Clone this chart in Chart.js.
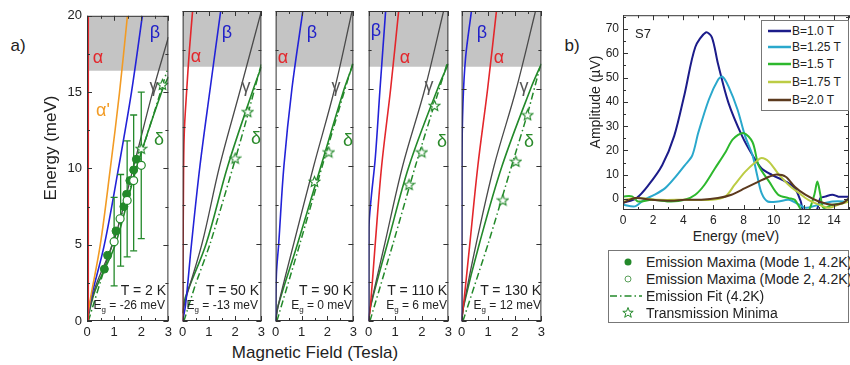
<!DOCTYPE html>
<html>
<head>
<meta charset="utf-8">
<script src="https://cdn.jsdelivr.net/npm/chart.js@4.4.1/dist/chart.umd.min.js"></script>
<style>
    body { margin: 0; width: 850px; height: 365px; background: #fff; position: relative; overflow: hidden;
           font-family: "Liberation Sans", Arial, sans-serif; color: #222; }
    canvas { position: absolute; }
    .t { position: absolute; white-space: nowrap; line-height: 1; transform: translate(-50%, -50%); }
    .r { position: absolute; white-space: nowrap; line-height: 1; transform: translate(-100%, -50%); }
    .l { position: absolute; white-space: nowrap; line-height: 1; transform: translate(0, -50%); }
    .gr { font-size: 18px; }
    .temp { font-size: 14px; }
    .eg { font-size: 12px; }
    .eg sub { font-size: 8px; vertical-align: -3px; }
    .box { position: absolute; border: 1px solid #777; background: #fff; }
</style>
</head>
<body>

<canvas id="p1" width="119" height="338" style="left:57px;top:3px"></canvas>
<canvas id="p2" width="94" height="338" style="left:175px;top:3px"></canvas>
<canvas id="p3" width="93" height="338" style="left:268px;top:3px"></canvas>
<canvas id="p4" width="95" height="338" style="left:361px;top:3px"></canvas>
<canvas id="p5" width="95" height="338" style="left:454px;top:3px"></canvas>
<canvas id="pb" width="257" height="224" style="left:593px;top:4px"></canvas>

<!-- panel letters and axis titles -->
<div class="t" style="left:18px;top:45px;font-size:17px">a)</div>
<div class="t" style="left:572px;top:45px;font-size:17px">b)</div>
<div class="t" style="left:50px;top:148px;font-size:17px;transform:translate(-50%,-50%) rotate(-90deg)">Energy (meV)</div>
<div class="t" style="left:315px;top:352px;font-size:17px">Magnetic Field (Tesla)</div>
<div class="t" style="left:595px;top:102px;font-size:14px;transform:translate(-50%,-50%) rotate(-90deg)">Amplitude (µV)</div>
<div class="t" style="left:736px;top:236px;font-size:14px">Energy (meV)</div>
<div class="l" style="left:635px;top:33px;font-size:13px">S7</div>

<!-- level labels -->
<div class="t gr" style="left:98px;top:57px;color:#e3262b">α</div>
<div class="t gr" style="left:103px;top:110px;color:#f29b24">α'</div>
<div class="t gr" style="left:155px;top:32px;color:#2222c8">β</div>
<div class="t gr" style="left:154px;top:86px;color:#555">γ</div>
<div class="t gr" style="left:159px;top:139px;color:#2a8a2a">δ</div>

<div class="t gr" style="left:196px;top:56px;color:#e3262b">α</div>
<div class="t gr" style="left:227px;top:32px;color:#2222c8">β</div>
<div class="t gr" style="left:246px;top:86px;color:#555">γ</div>
<div class="t gr" style="left:256px;top:138px;color:#2a8a2a">δ</div>

<div class="t gr" style="left:283px;top:57px;color:#e3262b">α</div>
<div class="t gr" style="left:312px;top:32px;color:#2222c8">β</div>
<div class="t gr" style="left:336px;top:86px;color:#555">γ</div>
<div class="t gr" style="left:348px;top:140px;color:#2a8a2a">δ</div>

<div class="t gr" style="left:376px;top:30px;color:#2222c8">β</div>
<div class="t gr" style="left:405px;top:57px;color:#e3262b">α</div>
<div class="t gr" style="left:429px;top:85px;color:#555">γ</div>
<div class="t gr" style="left:442px;top:141px;color:#2a8a2a">δ</div>

<div class="t gr" style="left:482px;top:32px;color:#2222c8">β</div>
<div class="t gr" style="left:499px;top:57px;color:#e3262b">α</div>
<div class="t gr" style="left:524px;top:86px;color:#555">γ</div>
<div class="t gr" style="left:529px;top:141px;color:#2a8a2a">δ</div>

<!-- temperatures and gaps -->
<div class="r temp" style="left:166px;top:290px">T = 2 K</div>
<div class="r eg" style="left:165px;top:306px">E<sub>g</sub> = -26 meV</div>
<div class="r temp" style="left:259px;top:290px">T = 50 K</div>
<div class="r eg" style="left:258px;top:306px">E<sub>g</sub> = -13 meV</div>
<div class="r temp" style="left:352px;top:290px">T = 90 K</div>
<div class="r eg" style="left:352px;top:306px">E<sub>g</sub> = 0 meV</div>
<div class="r temp" style="left:447px;top:290px">T = 110 K</div>
<div class="r eg" style="left:447px;top:306px">E<sub>g</sub> = 6 meV</div>
<div class="r temp" style="left:541px;top:290px">T = 130 K</div>
<div class="r eg" style="left:541px;top:306px">E<sub>g</sub> = 12 meV</div>

<!-- legend inside panel b -->
<div class="box" style="left:761px;top:20px;width:86px;height:89px">
    <svg width="86" height="89" style="position:absolute;left:0;top:0">
        <line x1="6" x2="29" y1="10" y2="10" stroke="#1c1c8a" stroke-width="2.5"/>
        <line x1="6" x2="29" y1="26" y2="26" stroke="#2aa8cc" stroke-width="2.5"/>
        <line x1="6" x2="29" y1="43" y2="43" stroke="#2db82d" stroke-width="2.5"/>
        <line x1="6" x2="29" y1="61" y2="61" stroke="#bccc44" stroke-width="2.5"/>
        <line x1="6" x2="29" y1="79" y2="79" stroke="#5c3a1e" stroke-width="2.5"/>
    </svg>
</div>
<div class="l" style="left:792px;top:31px;font-size:12px">B=1.0 T</div>
<div class="l" style="left:792px;top:47px;font-size:12px">B=1.25 T</div>
<div class="l" style="left:792px;top:64px;font-size:12px">B=1.5 T</div>
<div class="l" style="left:792px;top:82px;font-size:12px">B=1.75 T</div>
<div class="l" style="left:792px;top:100px;font-size:12px">B=2.0 T</div>

<!-- lower legend -->
<div class="box" style="left:608px;top:250px;width:239px;height:71px">
    <svg width="40" height="71" style="position:absolute;left:0;top:0">
        <circle cx="19" cy="11" r="3.5" fill="#23892a"/>
        <circle cx="19" cy="28" r="3" fill="#fff" stroke="#5aa05a" stroke-width="1"/>
        <line x1="1" x2="33" y1="45" y2="45" stroke="#23892a" stroke-width="1.5" stroke-dasharray="7,3,1.5,3"/>
        <polygon points="19,56.5 20.4,60.2 24.2,60.3 21.2,62.6 22.3,66.3 19,64.1 15.7,66.3 16.8,62.6 13.8,60.3 17.6,60.2"
                 fill="#fff" stroke="#23892a" stroke-width="1"/>
    </svg>
</div>
<div class="l" style="left:646px;top:262px;font-size:14px">Emission Maxima (Mode 1, 4.2K)</div>
<div class="l" style="left:646px;top:279px;font-size:14px">Emission Maxima (Mode 2, 4.2K)</div>
<div class="l" style="left:646px;top:296px;font-size:14px">Emission Fit (4.2K)</div>
<div class="l" style="left:646px;top:313px;font-size:14px">Transmission Minima</div>

<script>
// ---- data: panel a, [field (T), energy (meV)] ----
const bandLow = 16.4;   // grey region from here up to 20 meV

// T = 2 K
const alpha2K      = [[0.03, 0], [0.03, 20]];
const alphaPrime2K = [[0, 0], [0.13, 1.5], [0.49, 5], [0.86, 10], [1.2, 15], [1.49, 20]];
const beta2K       = [[0, 0], [0.15, 1.5], [0.64, 5], [1.16, 10], [1.64, 15], [2.04, 20]];
const gamma2K      = [[0, 0], [0.3, 2.2], [1.0, 5.3], [1.7, 10], [2.42, 15], [3, 18.6]];
const delta2K      = [[0, 0], [0.3, 2], [1.04, 5], [1.82, 10], [2.75, 15], [3, 16]];
const fit2K        = [[0.05, 0], [0.64, 3.4], [1.07, 5.8], [1.5, 8.2], [2.0, 11], [2.5, 13.8], [2.95, 16.4]];
const stars2K      = [[2.0, 11.3], [2.78, 15.5]];
const mode1        = [[0.64, 3.4], [0.76, 4.3], [1.07, 5.9], [1.36, 7.5], [1.46, 8.3], [1.58, 9.2], [1.72, 9.9], [1.82, 10.6]];
const mode2        = [[1.0, 5.2], [1.22, 6.7], [1.48, 7.9], [1.72, 9.2], [2.0, 10.2]];
const errField     = [1.0, 1.24, 1.48, 1.72, 2.0];
const errLow       = [2.3, 3.6, 4.2, 4.6, 5.4];
const errHigh      = [8.1, 9.6, 11.8, 13.5, 15.0];

// T = 50 K
const alpha50K = [[0, 0], [0.03, 8], [0.06, 12], [0.16, 15], [0.26, 17.5], [0.38, 20]];
const beta50K  = [[0, 0], [0.11, 1], [0.34, 5], [0.66, 10], [1.05, 15], [1.45, 20]];
const gamma50K = [[0, 0.5], [0.1, 1.3], [0.74, 5], [1.41, 10], [2.21, 15], [3, 20]];
const delta50K = [[0, 0.5], [0.1, 1.5], [0.9, 5], [1.72, 10], [2.7, 15], [3, 16.4]];
const fit50K   = [[0.05, 0], [0.5, 2.4], [1.05, 5], [2.0, 10.4], [2.48, 13.3], [3, 16.6]];
const stars50K = [[2.0, 10.5], [2.48, 13.5]];

// T = 90 K
const beta90K  = [[0, 0], [0.03, 3], [0.12, 5], [0.32, 10], [0.63, 15], [1.05, 20]];
const gamma90K = [[0, 0], [0.1, 1], [0.7, 5], [1.47, 10], [2.28, 15], [2.95, 20]];
const delta90K = [[0, 0], [0.1, 1], [0.85, 5], [1.75, 10], [2.65, 15], [3, 16.6]];
const fit90K   = [[0.05, 0], [0.94, 5], [1.8, 10], [2.4, 13.4], [2.97, 16.6]];
const stars90K = [[1.5, 9.0], [2.05, 10.9]];

// T = 110 K
const beta110K  = [[0, 0], [0.01, 6], [0.1, 8], [0.25, 10.5], [0.43, 15], [0.64, 20]];
const alpha110K = [[0, 0], [0.07, 1], [0.25, 5], [0.49, 10], [0.83, 15], [1.13, 20]];
const gamma110K = [[0, 0], [0.08, 1], [0.61, 5], [1.28, 10], [2.12, 15], [2.82, 20]];
const delta110K = [[0, 0], [0.08, 1], [0.71, 5], [1.52, 10], [2.6, 15], [3, 16.6]];
const fit110K   = [[0.05, 0], [0.92, 5], [1.76, 10], [2.48, 14], [2.95, 16.6]];
const stars110K = [[1.52, 8.8], [2.0, 10.9], [2.48, 13.9]];

// T = 130 K
const beta130K  = [[0, 0], [0.01, 10], [0.05, 14], [0.15, 17], [0.37, 20]];
const alpha130K = [[0, 0], [0.1, 1.5], [0.31, 5], [0.61, 10], [0.98, 15], [1.31, 20]];
const gamma130K = [[0, 0], [0.08, 1], [0.55, 5], [1.22, 10], [2.06, 15], [2.78, 20]];
const delta130K = [[0, 0], [0.08, 1], [0.67, 5], [1.52, 10], [2.6, 15], [3, 16.6]];
const fit130K   = [[0.05, 0], [1.0, 5], [1.88, 10], [2.5, 13.5], [2.95, 16.4]];
const stars130K = [[1.55, 7.8], [2.04, 10.3], [2.48, 13.3]];

// ---- data: panel b, [energy (meV), amplitude (µV)] ----
const spec10 = [[0, -1.6], [0.9, 0.4], [1.7, 5.8], [2.6, 13.9], [3.4, 26], [4.1, 43.6], [4.8, 62.6], [5.5, 68.6],
                [5.9, 66.6], [6.3, 55.8], [7.0, 39.6], [7.9, 26], [8.6, 18], [9.2, 12.6], [9.9, 9.9], [10.8, 7.2],
                [11.4, 4.5], [11.8, -1], [12.0, -5], [12.8, -5], [13.1, 0.4], [13.4, 1], [13.9, 1.8], [14.3, 1], [15, 1]];
const spec125 = [[0, -2.3], [0.8, -3], [1.4, -0.3], [2.1, 1.8], [2.8, 4.5], [3.4, 8.5], [4.1, 13.9], [4.6, 18],
                 [5.0, 27.4], [5.7, 41], [6.3, 49], [6.6, 50.4], [7.0, 46.4], [7.6, 36.9], [8.1, 26], [8.6, 18],
                 [8.9, 9.9], [9.2, 2.4], [9.6, -1], [10.3, -1], [11, -0.3], [11.7, -2.3], [12.1, -3.6], [13, -2.3],
                 [13.9, -1], [15, -1]];
const spec15 = [[0, 1.1], [0.6, 1.1], [1.0, -1], [1.9, -0.3], [3.2, -1], [4.1, -0.3], [4.8, 1.8], [5.4, 5.8],
                [6.1, 12.6], [6.8, 19.3], [7.3, 24.7], [8.0, 27.2], [8.6, 23.4], [9.0, 13.9], [9.7, 7.2], [10.3, 1.8],
                [11.0, 0.4], [11.4, -0.3], [11.9, -5], [12.3, -5], [12.7, 1.8], [12.9, 7.2], [13.1, 1.8], [13.3, -3.6],
                [13.9, -2.3], [14.6, -1.6], [15, -0.3]];
const spec175 = [[0, -0.3], [1.0, 0.4], [2.3, -0.3], [4.1, -0.3], [5.9, -0.3], [6.8, 1.1], [7.4, 5.8], [8.1, 11.2],
                 [8.8, 15.3], [9.2, 16.9], [9.7, 15.3], [10.3, 10.5], [11.0, 5.8], [11.7, 2.4], [12.3, -0.3],
                 [13.0, -2.3], [13.7, -3.6], [14.3, -2.3], [15, -1]];
const spec20 = [[0, -1.6], [0.8, 0.4], [1.9, -0.3], [3.2, -0.7], [4.1, -0.3], [5.2, -0.3], [6.3, 0.4], [7.2, 1.8],
                [8.1, 4.5], [9.0, 7.2], [9.7, 9.2], [10.2, 10.1], [10.8, 9.2], [11.4, 5.1], [12.1, 1.8], [13, -1],
                [13.9, -2.3], [14.6, -1.6], [15, 0.4]];

// ---- styles ----
const FONT = '"Liberation Sans", Arial, sans-serif';
const RED = '#e3262b', ORANGE = '#f29b24', BLUE = '#2222d8', GRAY = '#4a4a4a', GREEN = '#23892a';

const pts = arr => arr.map(([x, y]) => ({x, y}));

function starImage(size, color) {
    const c = document.createElement('canvas');
    c.width = c.height = size;
    const g = c.getContext('2d');
    const r = size / 2 - 1, cx = size / 2, cy = size / 2 + 0.5;
    g.beginPath();
    for (let i = 0; i < 10; i++) {
        const rad = i % 2 ? r * 0.45 : r;
        const a = -Math.PI / 2 + i * Math.PI / 5;
        g.lineTo(cx + rad * Math.cos(a), cy + rad * Math.sin(a));
    }
    g.closePath();
    g.fillStyle = '#fff';
    g.fill();
    g.strokeStyle = color;
    g.lineWidth = 1.1;
    g.stroke();
    return c;
}
const starImg = starImage(13, GREEN);

function curve(arr, color, width) {
    return { data: pts(arr), borderColor: color, borderWidth: width || 1.6, pointRadius: 0,
             tension: 0.35, fill: false, order: 3 };
}
function fitLine(arr) {
    const d = curve(arr, GREEN, 1.5);
    d.borderDash = [7, 3, 1.5, 3];
    d.tension = 0.2;
    return d;
}
function starSet(arr) {
    return { data: pts(arr), showLine: false, pointStyle: starImg, pointRadius: 6, order: 0 };
}
function band() {
    return { data: pts([[0, bandLow], [3, bandLow]]), borderWidth: 0, pointRadius: 0,
             fill: 'end', backgroundColor: '#c4c4c4', order: 10 };
}

// inward ticks on all four sides + frame
const framePlugin = {
    id: 'frame',
    afterDatasetsDraw(chart, args, opts) {
        const {ctx, chartArea: a} = chart;
        const x = chart.scales.x, y = chart.scales.y;
        ctx.save();
        ctx.strokeStyle = '#333';
        ctx.lineWidth = 1;
        ctx.strokeRect(a.left + 0.5, a.top + 0.5, a.right - a.left - 1, a.bottom - a.top - 1);
        ctx.beginPath();
        const isMajor = (v, m) => Math.abs(v / m - Math.round(v / m)) < 1e-6;
        for (let v = Math.ceil(x.min / opts.xMinor) * opts.xMinor; v <= x.max + 1e-9; v += opts.xMinor) {
            const p = Math.round(x.getPixelForValue(v)) + 0.5;
            const len = isMajor(v, opts.xMajor) ? 5 : 3;
            ctx.moveTo(p, a.bottom); ctx.lineTo(p, a.bottom - len);
            ctx.moveTo(p, a.top); ctx.lineTo(p, a.top + len);
        }
        for (let v = Math.ceil(y.min / opts.yMinor) * opts.yMinor; v <= y.max + 1e-9; v += opts.yMinor) {
            const p = Math.round(y.getPixelForValue(v)) + 0.5;
            const len = isMajor(v, opts.yMajor) ? 5 : 3;
            ctx.moveTo(a.left, p); ctx.lineTo(a.left + len, p);
            ctx.moveTo(a.right, p); ctx.lineTo(a.right - len, p);
        }
        ctx.stroke();
        ctx.restore();
    }
};
Chart.register(framePlugin);

function panelOptions(showY) {
    const tickFont = { size: 13, family: FONT };
    const y = {
        type: 'linear', min: 0, max: 20, display: showY,
        grid: { display: false, drawTicks: false }, border: { display: false },
        ticks: { stepSize: 5, padding: 5, color: '#222', font: tickFont }
    };
    if (showY) y.afterFit = s => { s.width = 30; };
    return {
        responsive: false, animation: false, events: [],
        layout: { padding: { top: 8, right: 6, left: showY ? 0 : 6, bottom: 0 } },
        plugins: { legend: { display: false }, tooltip: { enabled: false },
                   frame: { xMinor: 0.5, xMajor: 1, yMinor: 2.5, yMajor: 5 } },
        scales: {
            x: {
                type: 'linear', min: 0, max: 3,
                afterFit: s => { s.height = 20; },
                grid: { display: false, drawTicks: false }, border: { display: false },
                ticks: { stepSize: 1, padding: 4, color: '#222', font: tickFont }
            },
            y
        }
    };
}

function makePanel(id, datasets, showY) {
    new Chart(document.getElementById(id), {
        type: 'line',
        data: { datasets },
        options: panelOptions(showY)
    });
}

// T = 2 K panel
const errorBars = errField.map((b, i) => ({
    data: pts([[b, errLow[i]], [b, errHigh[i]]]),
    borderColor: GREEN, borderWidth: 1.3, tension: 0,
    pointStyle: 'line', pointRadius: 3.5, pointBorderColor: GREEN, pointBorderWidth: 1.3, order: 2
}));
makePanel('p1', [
    band(),
    curve(alpha2K, RED, 2.5),
    curve(alphaPrime2K, ORANGE),
    curve(beta2K, BLUE),
    curve(gamma2K, GRAY, 1.3),
    curve(delta2K, GREEN),
    fitLine(fit2K),
    ...errorBars,
    { data: pts(mode1), showLine: false, pointRadius: 4, backgroundColor: GREEN, borderColor: GREEN, order: 1 },
    { data: pts(mode2), showLine: false, pointRadius: 4, backgroundColor: '#fff', borderColor: GREEN,
      borderWidth: 1.2, order: 0 },
    starSet(stars2K)
], true);

makePanel('p2', [
    band(),
    curve(alpha50K, RED),
    curve(beta50K, BLUE),
    curve(gamma50K, GRAY, 1.3),
    curve(delta50K, GREEN),
    fitLine(fit50K),
    starSet(stars50K)
], false);

makePanel('p3', [
    band(),
    curve(beta90K, BLUE),
    curve(gamma90K, GRAY, 1.3),
    curve(delta90K, GREEN),
    fitLine(fit90K),
    starSet(stars90K)
], false);

makePanel('p4', [
    band(),
    curve(beta110K, BLUE),
    curve(alpha110K, RED),
    curve(gamma110K, GRAY, 1.3),
    curve(delta110K, GREEN),
    fitLine(fit110K),
    starSet(stars110K)
], false);

makePanel('p5', [
    band(),
    curve(beta130K, BLUE),
    curve(alpha130K, RED),
    curve(gamma130K, GRAY, 1.3),
    curve(delta130K, GREEN),
    fitLine(fit130K),
    starSet(stars130K)
], false);

// panel b spectra
const spectra = [
    [spec10, '#1c1c8a'],
    [spec125, '#2aa8cc'],
    [spec15, '#2db82d'],
    [spec175, '#bccc44'],
    [spec20, '#5c3a1e']
];
new Chart(document.getElementById('pb'), {
    type: 'line',
    data: {
        datasets: spectra.map(([arr, color], i) => ({
            data: pts(arr), borderColor: color, borderWidth: 2, pointRadius: 0, tension: 0.3,
            fill: false, order: 5 - i
        }))
    },
    options: {
        responsive: false, animation: false, events: [],
        layout: { padding: { top: 8, right: 1, left: 0, bottom: 0 } },
        plugins: { legend: { display: false }, tooltip: { enabled: false },
                   frame: { xMinor: 1, xMajor: 2, yMinor: 5, yMajor: 10 } },
        scales: {
            x: {
                type: 'linear', min: 0, max: 15,
                afterFit: s => { s.height = 18; },
                grid: { display: false, drawTicks: false }, border: { display: false },
                ticks: { stepSize: 2, includeBounds: false, padding: 3, color: '#222', font: { size: 12, family: FONT } }
            },
            y: {
                type: 'linear', min: -4.5, max: 75.7,
                afterFit: s => { s.width = 30; },
                grid: { display: false, drawTicks: false }, border: { display: false },
                ticks: { stepSize: 10, includeBounds: false, padding: 4, color: '#222', font: { size: 12, family: FONT } }
            }
        }
    }
});
</script>
</body>
</html>
